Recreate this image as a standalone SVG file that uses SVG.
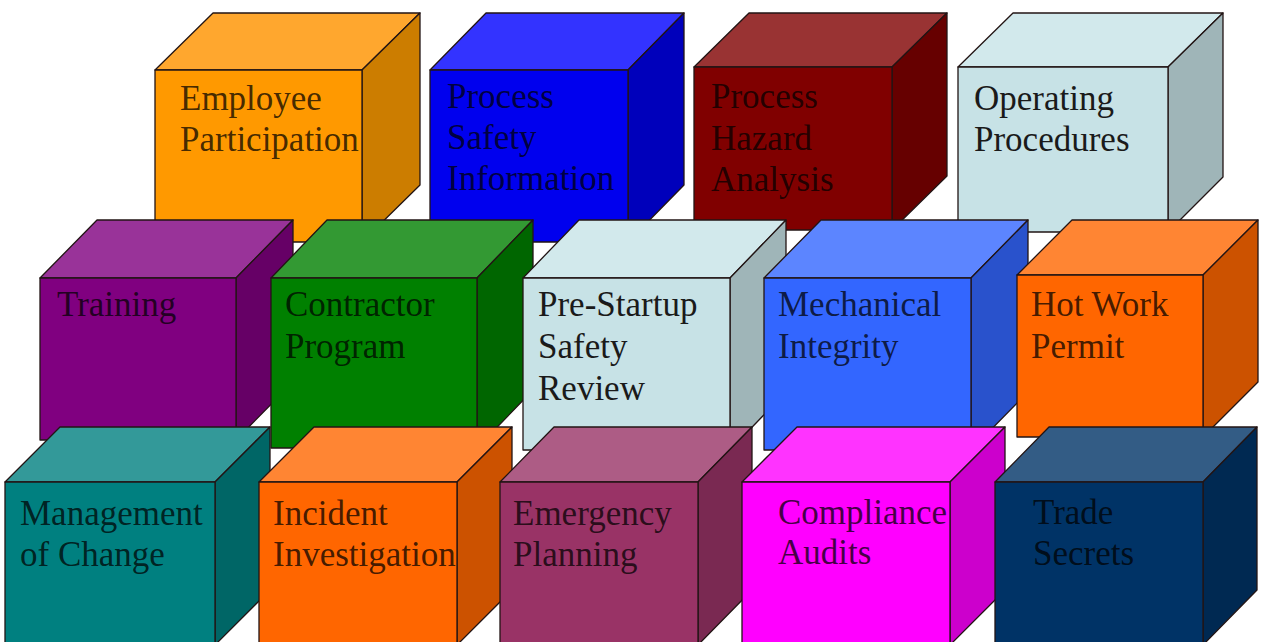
<svg xmlns="http://www.w3.org/2000/svg" width="1267" height="642" viewBox="0 0 1267 642">
<style>
  .f, .t, .r { stroke: #221414; stroke-width: 1.3; stroke-linejoin: round; }
  text { font-family: "Liberation Serif", "Times New Roman", serif; font-size: 35px; }
  .lbl { fill: #000; fill-opacity: 0.74; }
  .lbl-light { fill: #1a1a1a; }
</style>
<rect width="1267" height="642" fill="#ffffff"/>

<!-- Row 1 -->
<g id="employee-participation">
  <polygon class="t" points="155,70 213,13 420,13 362,70" fill="#FFA72E"/>
  <polygon class="r" points="362,70 420,13 420,185 362,242" fill="#CC7D00"/>
  <rect class="f" x="155" y="70" width="207" height="172" fill="#FF9900"/>
  <text class="lbl" x="180" y="110">Employee<tspan x="180" y="151">Participation</tspan></text>
</g>
<g id="process-safety-information">
  <polygon class="t" points="430,70 486,13 684,13 628,70" fill="#3333FF"/>
  <polygon class="r" points="628,70 684,13 684,185 628,242" fill="#0000BB"/>
  <rect class="f" x="430" y="70" width="198" height="172" fill="#0000EE"/>
  <text class="lbl" x="447" y="108" fill-opacity="0.64">Process<tspan x="447" y="149">Safety</tspan><tspan x="447" y="190">Information</tspan></text>
</g>
<g id="process-hazard-analysis">
  <polygon class="t" points="694,67 749,13 947,13 892,67" fill="#993333"/>
  <polygon class="r" points="892,67 947,13 947,176 892,230" fill="#660000"/>
  <rect class="f" x="694" y="67" width="198" height="163" fill="#800000"/>
  <text class="lbl" x="711" y="108">Process<tspan x="711" y="150">Hazard</tspan><tspan x="711" y="191">Analysis</tspan></text>
</g>
<g id="operating-procedures">
  <polygon class="t" points="958,67 1013,13 1223,13 1168,67" fill="#D2E9EC"/>
  <polygon class="r" points="1168,67 1223,13 1223,177 1168,232" fill="#9FB5B8"/>
  <rect class="f" x="958" y="67" width="210" height="165" fill="#C7E2E6"/>
  <text class="lbl-light" x="974" y="110">Operating<tspan x="974" y="151">Procedures</tspan></text>
</g>

<!-- Row 2 -->
<g id="training">
  <polygon class="t" points="40,278 97,220 293,220 236,278" fill="#993399"/>
  <polygon class="r" points="236,278 293,220 293,382 236,440" fill="#660066"/>
  <rect class="f" x="40" y="278" width="196" height="162" fill="#800080"/>
  <text class="lbl" x="57" y="316">Training</text>
</g>
<g id="contractor-program">
  <polygon class="t" points="271,278 327,220 533,220 477,278" fill="#339933"/>
  <polygon class="r" points="477,278 533,220 533,390 477,448" fill="#006600"/>
  <rect class="f" x="271" y="278" width="206" height="170" fill="#008000"/>
  <text class="lbl" x="285" y="316">Contractor<tspan x="285" y="358">Program</tspan></text>
</g>
<g id="pre-startup-safety-review">
  <polygon class="t" points="523,278 579,220 786,220 730,278" fill="#D2E9EC"/>
  <polygon class="r" points="730,278 786,220 786,392 730,450" fill="#9FB5B8"/>
  <rect class="f" x="523" y="278" width="207" height="172" fill="#C7E2E6"/>
  <text class="lbl-light" x="538" y="316">Pre-Startup<tspan x="538" y="358">Safety</tspan><tspan x="538" y="400">Review</tspan></text>
</g>
<g id="mechanical-integrity">
  <polygon class="t" points="764,278 821,220 1028,220 971,278" fill="#5C85FF"/>
  <polygon class="r" points="971,278 1028,220 1028,392 971,450" fill="#2952CC"/>
  <rect class="f" x="764" y="278" width="207" height="172" fill="#3366FF"/>
  <text class="lbl" x="778" y="316">Mechanical<tspan x="778" y="358">Integrity</tspan></text>
</g>
<g id="hot-work-permit">
  <polygon class="t" points="1017,275 1072,220 1258,220 1203,275" fill="#FF8533"/>
  <polygon class="r" points="1203,275 1258,220 1258,382 1203,437" fill="#CC5200"/>
  <rect class="f" x="1017" y="275" width="186" height="162" fill="#FF6600"/>
  <text class="lbl" x="1031" y="316">Hot Work<tspan x="1031" y="358">Permit</tspan></text>
</g>

<!-- Row 3 -->
<g id="management-of-change">
  <polygon class="t" points="5,482 60,427 270,427 215,482" fill="#339999"/>
  <polygon class="r" points="215,482 270,427 270,590 215,645" fill="#006666"/>
  <rect class="f" x="5" y="482" width="210" height="163" fill="#008080"/>
  <text class="lbl" x="20" y="525">Management<tspan x="20" y="566">of Change</tspan></text>
</g>
<g id="incident-investigation">
  <polygon class="t" points="259,482 314,427 512,427 457,482" fill="#FF8533"/>
  <polygon class="r" points="457,482 512,427 512,590 457,645" fill="#CC5200"/>
  <rect class="f" x="259" y="482" width="198" height="163" fill="#FF6600"/>
  <text class="lbl" x="273" y="525">Incident<tspan x="273" y="566">Investigation</tspan></text>
</g>
<g id="emergency-planning">
  <polygon class="t" points="500,482 554,427 752,427 698,482" fill="#AD5C85"/>
  <polygon class="r" points="698,482 752,427 752,590 698,645" fill="#7A2952"/>
  <rect class="f" x="500" y="482" width="198" height="163" fill="#993366"/>
  <text class="lbl" x="513" y="525">Emergency<tspan x="513" y="566">Planning</tspan></text>
</g>
<g id="compliance-audits">
  <polygon class="t" points="742,482 797,427 1005,427 950,482" fill="#FF33FF"/>
  <polygon class="r" points="950,482 1005,427 1005,590 950,645" fill="#CC00CC"/>
  <rect class="f" x="742" y="482" width="208" height="163" fill="#FF00FF"/>
  <text class="lbl" x="778" y="524" fill-opacity="0.58">Compliance<tspan x="778" y="564">Audits</tspan></text>
</g>
<g id="trade-secrets">
  <polygon class="t" points="995,482 1049,427 1257,427 1203,482" fill="#335C85"/>
  <polygon class="r" points="1203,482 1257,427 1257,590 1203,645" fill="#002952"/>
  <rect class="f" x="995" y="482" width="208" height="163" fill="#003366"/>
  <text class="lbl" x="1033" y="524" fill-opacity="0.62">Trade<tspan x="1033" y="565">Secrets</tspan></text>
</g>

<g id="connectors"/>
</svg>
